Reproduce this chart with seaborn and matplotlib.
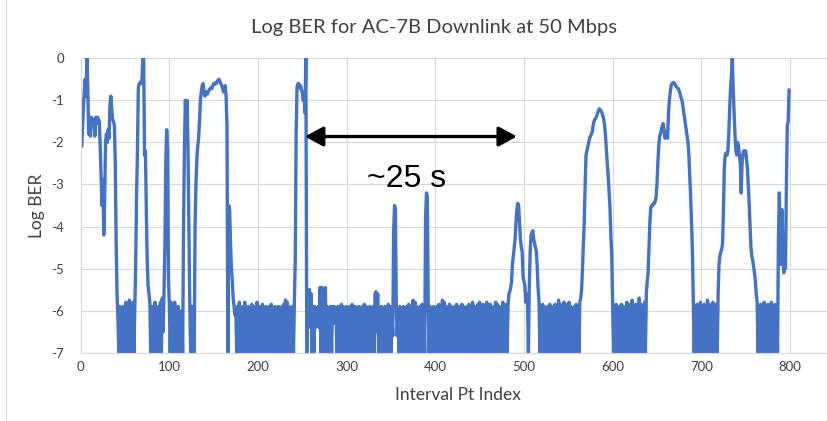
import matplotlib
matplotlib.use("Agg")
import matplotlib.pyplot as plt
import pandas as pd
import seaborn as sns
from matplotlib.lines import Line2D

# ---------------------------------------------------------------------------
# Log BER per interval point in blocks of 100 points
# ---------------------------------------------------------------------------

ber_000 = [
    -1.3, -2.1, -1.7, -1.2, -0.8, -0.5, -0.9, 0.0, -0.7, -1.8,
    -1.4, -1.85, -1.4, -1.5, -1.6, -1.45, -1.85, -1.4, -1.55, -1.4,
    -1.45, -1.5, -2.1, -2.8, -3.5, -2.9, -4.2, -3.4, -2.0, -1.8,
    -2.0, -1.7, -1.9, -1.1, -0.9, -1.2, -1.45, -1.5, -1.6, -2.5,
    -4.4, -5.6, -6.2, -7, -5.9, -7, -6.0, -7, -5.9, -6.3,
    -7, -5.8, -7, -6.0, -7, -5.75, -7, -6.0, -7, -5.8,
    -7, -5.9, -4.9, -3.3, -2.2, -0.7, -0.6, -0.6, -0.55, -0.6,
    0.0, 0.0, -2.3, -2.2, -3.6, -4.8, -5.4, -5.6, -5.8, -7,
    -5.9, -7, -6.0, -7, -5.8, -7, -6.0, -7, -5.9, -7,
    -5.8, -7, -5.7, -6.5, -5.5, -4.5, -2.4, -1.7, -2.2, -5.2,
]

ber_100 = [
    -5.9, -7, -5.8, -7, -5.9, -7, -5.8, -7, -6.0, -7,
    -5.9, -7, -6.1, -7, -6.0, -7, -4.0, -2.2, -1.0, -1.3,
    -1.0, -2.1, -3.9, -5.8, -7, -5.9, -7, -6.0, -7, -4.0,
    -3.0, -2.4, -2.1, -1.9, -1.5, -1.0, -0.8, -0.65, -0.6, -0.75,
    -0.9, -0.85, -0.8, -0.85, -0.78, -0.75, -0.72, -0.7, -0.72, -0.65,
    -0.6, -0.62, -0.58, -0.6, -0.55, -0.52, -0.5, -0.55, -0.6, -0.65,
    -0.7, -0.8, -0.7, -0.65, -0.9, -1.6, -7, -3.5, -3.6, -4.4,
    -5.0, -5.3, -5.7, -5.9, -6.1, -6.0, -7, -5.9, -7, -5.8,
    -7, -6.0, -7, -5.9, -7, -5.8, -7, -6.0, -7, -5.9,
    -7, -6.1, -7, -5.85, -7, -5.9, -7, -6.0, -7, -5.8,
]

ber_200 = [
    -7, -5.9, -7, -6.0, -7, -5.85, -7, -5.95, -7, -5.9,
    -7, -6.05, -7, -5.9, -7, -5.85, -7, -6.0, -7, -5.9,
    -7, -5.95, -7, -5.9, -7, -6.0, -7, -5.9, -7, -5.85,
    -7, -5.75, -7, -5.8, -7, -5.9, -7, -6.0, -7, -5.9,
    -7, -5.8, -4.8, -1.8, -0.7, -0.6, -0.6, -0.7, -0.65, -0.75,
    -0.8, -1.0, -0.9, -1.3, 0.0, -7, -5.9, -6.4, -5.5, -6.3,
    -5.6, -7, -5.9, -7, -5.9, -6.4, -6.0, -6.3, -5.9, -6.4,
    -5.45, -7, -5.45, -7, -5.5, -7, -5.45, -7, -5.9, -7,
    -6.0, -7, -5.9, -7, -5.9, -6.3, -5.9, -6.2, -6.0, -7,
    -5.9, -7, -6.0, -7, -5.85, -7, -5.9, -7, -6.0, -7,
]

ber_300 = [
    -5.9, -7, -6.0, -7, -5.9, -7, -5.85, -7, -6.0, -7,
    -5.9, -7, -5.95, -7, -5.9, -7, -6.0, -7, -5.9, -7,
    -5.85, -7, -5.9, -7, -6.0, -6.4, -5.9, -7, -6.0, -7,
    -5.9, -7, -5.6, -5.55, -6.5, -5.6, -7, -6.0, -7, -5.9,
    -7, -5.95, -7, -5.9, -7, -6.0, -7, -5.85, -7, -5.9,
    -7, -6.0, -6.6, -4.1, -3.5, -3.6, -5.9, -6.6, -6.0, -7,
    -5.9, -6.0, -5.95, -7, -5.9, -7, -6.0, -7, -5.9, -7,
    -5.85, -7, -6.0, -7, -5.9, -5.75, -7, -5.8, -7, -5.9,
    -7, -6.0, -7, -5.9, -7, -5.85, -7, -6.0, -7, -3.8,
    -3.2, -3.3, -5.9, -7, -5.9, -7, -6.0, -7, -5.9, -7,
]

ber_400 = [
    -6.0, -7, -5.9, -7, -5.85, -7, -5.95, -7, -5.75, -7,
    -5.8, -7, -5.9, -7, -6.0, -7, -5.85, -7, -5.9, -7,
    -5.95, -7, -5.9, -7, -5.85, -7, -6.0, -7, -5.9, -7,
    -5.85, -7, -5.9, -7, -5.95, -7, -5.9, -7, -5.85, -7,
    -5.9, -7, -5.8, -7, -5.9, -7, -5.95, -7, -5.85, -7,
    -5.8, -7, -5.9, -7, -5.85, -7, -5.95, -7, -5.8, -7,
    -5.9, -7, -5.85, -7, -5.95, -7, -5.9, -7, -5.8, -7,
    -5.85, -7, -5.9, -7, -5.95, -7, -5.8, -7, -5.9, -7,
    -5.85, -7, -5.9, -5.6, -5.55, -5.45, -5.3, -4.9, -4.7, -4.5,
    -4.3, -3.9, -3.6, -3.45, -3.5, -3.9, -4.3, -4.5, -4.6, -5.2,
]

ber_500 = [
    -5.3, -5.4, -5.8, -5.6, -5.8, -7, -5.4, -4.6, -4.2, -4.15,
    -4.1, -4.3, -4.4, -4.5, -4.6, -5.0, -5.5, -5.8, -7, -5.9,
    -7, -5.85, -7, -5.9, -7, -6.0, -7, -5.9, -7, -5.85,
    -7, -5.9, -7, -5.95, -7, -5.85, -7, -5.9, -7, -5.75,
    -7, -5.85, -7, -5.9, -7, -5.8, -7, -5.9, -7, -5.85,
    -7, -5.8, -7, -5.9, -7, -5.95, -7, -5.9, -7, -5.85,
    -7, -5.9, -7, -5.8, -5.7, -5.5, -5.0, -4.4, -3.9, -3.0,
    -2.3, -2.2, -2.1, -2.0, -1.9, -1.85, -1.8, -1.75, -1.6, -1.5,
    -1.45, -1.42, -1.38, -1.3, -1.25, -1.2, -1.22, -1.25, -1.3, -1.38,
    -1.45, -1.6, -1.85, -2.2, -2.5, -2.8, -3.2, -3.55, -4.2, -4.7,
]

ber_600 = [
    -5.8, -7, -5.9, -7, -5.85, -7, -6.0, -7, -5.9, -7,
    -5.85, -7, -5.9, -7, -5.95, -7, -5.8, -7, -5.9, -7,
    -5.85, -7, -5.75, -7, -5.9, -7, -5.85, -7, -5.95, -7,
    -5.7, -7, -5.85, -7, -5.9, -7, -5.8, -7, -5.6, -5.3,
    -5.1, -4.5, -3.9, -3.55, -3.5, -3.5, -3.45, -3.45, -3.4, -3.3,
    -3.0, -2.5, -2.1, -1.85, -1.8, -1.7, -1.6, -1.55, -1.7, -1.9,
    -1.75, -1.85, -1.9, -1.3, -1.0, -0.8, -0.65, -0.6, -0.58, -0.58,
    -0.6, -0.65, -0.68, -0.7, -0.72, -0.77, -0.85, -0.92, -0.98, -1.1,
    -1.25, -1.4, -1.55, -1.7, -1.85, -2.0, -2.3, -2.8, -3.3, -3.9,
    -4.6, -5.8, -7, -5.9, -7, -5.85, -7, -5.9, -7, -5.8,
]

ber_700 = [
    -7, -5.9, -7, -5.85, -7, -5.9, -7, -5.75, -7, -5.85,
    -7, -5.9, -7, -5.8, -7, -5.9, -7, -5.85, -7, -5.6,
    -4.9, -4.7, -4.6, -4.55, -4.4, -3.6, -2.6, -2.3, -2.25, -2.3,
    -2.2, -1.8, -1.2, -0.7, -0.4, 0.0, -0.7, -1.3, -1.8, -2.2,
    -2.3, -2.0, -2.1, -2.3, -2.5, -3.2, -2.5, -2.26, -2.2, -2.3,
    -2.2, -2.4, -2.6, -3.0, -3.45, -4.0, -4.5, -4.7, -4.8, -4.95,
    -5.1, -5.3, -5.6, -5.8, -7, -5.9, -7, -5.85, -7, -5.9,
    -7, -5.8, -7, -5.9, -7, -5.85, -7, -5.9, -7, -5.8,
    -7, -5.9, -7, -5.85, -7, -5.9, -7, -4.3, -3.2, -4.0,
    -4.9, -3.6, -4.5, -5.1, -4.6, -5.0, -3.0, -1.6, -1.5, -0.75,
]

x_ticks = [0, 100, 200, 300, 400, 500, 600, 700, 800]
y_ticks = [0, -1, -2, -3, -4, -5, -6, -7]

# ---------------------------------------------------------------------------
# build frame
# ---------------------------------------------------------------------------

blocks = [ber_000, ber_100, ber_200, ber_300, ber_400, ber_500, ber_600, ber_700]
log_ber = [v for block in blocks for v in block]
df = pd.DataFrame({"idx": range(len(log_ber)), "log_ber": log_ber})

# ---------------------------------------------------------------------------
# plot
# ---------------------------------------------------------------------------

sns.set_style("whitegrid", {"grid.color": "#d9d9d9", "axes.edgecolor": "#d9d9d9"})
plt.rcParams["font.family"] = ["Lato", "DejaVu Sans"]

fig = plt.figure(figsize=(8.27, 4.21), dpi=100)
ax = fig.add_axes([80.7 / 827, 68.3 / 421, 746.3 / 827, 294.4 / 421])

sns.lineplot(data=df, x="idx", y="log_ber", ax=ax, color="#4472C4",
             linewidth=2.4, estimator=None)

ax.set_xlim(0, 841.8)
ax.set_ylim(-7, 0)
ax.set_xticks(x_ticks)
ax.set_yticks(y_ticks)
ax.set_xticklabels([str(t) for t in x_ticks], fontsize=9.5, color="#404040")
ax.set_yticklabels([str(t) for t in y_ticks], fontsize=9.5, color="#404040")
ax.tick_params(axis="x", length=0, pad=6)
ax.tick_params(axis="y", length=0, pad=12)
ax.grid(True, color="#d9d9d9", linewidth=0.8)

for side in ["top", "right"]:
    ax.spines[side].set_visible(False)
for side in ["left", "bottom"]:
    ax.spines[side].set_color("#d9d9d9")
    ax.spines[side].set_linewidth(0.8)

ax.set_xlabel("Interval Pt Index", fontsize=12.5, color="#404040")
ax.set_ylabel("Log BER", fontsize=12.5, color="#404040")
ax.xaxis.set_label_coords(0.5056, -0.115)
ax.yaxis.set_label_coords(-0.048, 0.5)

ax.set_title("Log BER for AC-7B Downlink at 50 Mbps", fontsize=14.5,
             color="#404040", x=0.4734, y=1.085, pad=0)

# ~25 s gap marker
ax.annotate("", xy=(253, -1.86), xytext=(492, -1.86),
            arrowprops=dict(arrowstyle="<|-|>,head_length=1.1,head_width=0.6",
                            mutation_scale=10, lw=2.4, color="black",
                            shrinkA=0, shrinkB=0))
ax.text(368, -3.05, "~25 s", fontsize=23, family="Liberation Sans",
        ha="center", va="baseline", color="black")

# chart area border on the left
fig.add_artist(Line2D([5.5 / 827, 5.5 / 827], [0, 1], transform=fig.transFigure,
                      color="#d9d9d9", linewidth=0.8))

fig.savefig("out.png", dpi=100)
